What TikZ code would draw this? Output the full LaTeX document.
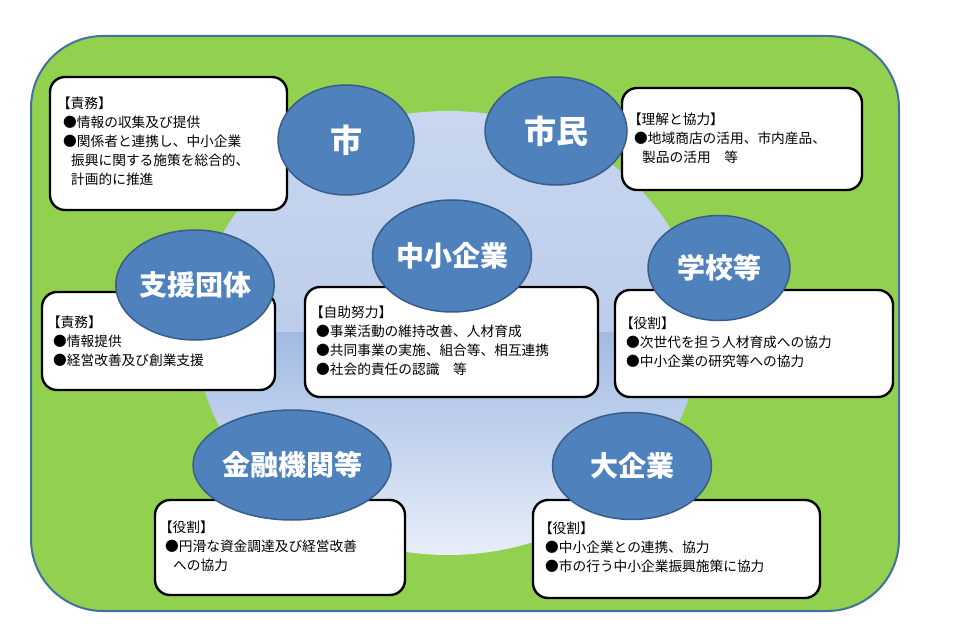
\documentclass[tikz,border=0pt]{standalone}
\usepackage{fontspec}
\setmainfont{Noto Sans CJK JP}
\usetikzlibrary{shapes.geometric}
\definecolor{fieldgreen}{HTML}{92D050}
\definecolor{fieldedge}{HTML}{41719C}
\definecolor{ovalfill}{HTML}{4F81BD}
\definecolor{ovaledge}{HTML}{385D8A}
\definecolor{coreA}{HTML}{C9D7EF}
\definecolor{coreB}{HTML}{BCCDEB}
\definecolor{coreC}{HTML}{A2BBE3}
\definecolor{coreD}{HTML}{E9EFF9}
\newcommand\lbk{\hspace*{-0.45em}【}
\newcommand\ind{\hspace*{8pt}}
\tikzset{
  infobox/.style={draw=black, line width=2.4pt, fill=white, rounded corners=15pt, inner sep=0pt},
  oval/.style={ellipse, draw=ovaledge, line width=1.5pt, fill=ovalfill, inner sep=0pt,
    text=white, font=\fontsize{28}{32}\selectfont\bfseries},
  bigoval/.style={oval, font=\fontsize{32}{34}\selectfont\bfseries},
  txt/.style={anchor=north west, inner sep=0pt, align=left, text=black,
    font=\fontsize{13.7}{19}\selectfont}
}
\begin{document}
\begin{tikzpicture}[x=1pt,y=-1pt]
\useasboundingbox (0,0) rectangle (970,631);
% green field
\draw[fieldedge, line width=2pt, fill=fieldgreen, rounded corners=72pt] (31,36) rectangle (899,611);
% light blue core
\begin{scope}
\clip (448,333) ellipse [x radius=252, y radius=222];
\shade[top color=coreA, bottom color=coreB] (190,105) rectangle (706,333.5);
\shade[top color=coreC, bottom color=coreD] (190,333) rectangle (706,560);
\end{scope}
% boxes
\node[infobox, minimum width=237pt, minimum height=133pt] (b1) at (168.5,143.5) {};
\node[infobox, minimum width=240pt, minimum height=102pt] (b2) at (742,139) {};
\node[infobox, minimum width=233pt, minimum height=98pt] (b3) at (158.5,341) {};
\node[infobox, minimum width=293pt, minimum height=110pt] (b4) at (451.5,342) {};
\node[infobox, minimum width=278pt, minimum height=107pt] (b5) at (754,343.5) {};
\node[infobox, minimum width=250pt, minimum height=95pt] (b6) at (280,547.5) {};
\node[infobox, minimum width=287pt, minimum height=98pt] (b7) at (676.5,549) {};
% box texts
\node[txt] (t1) at (63,95) {\strut\lbk 責務】\\●情報の収集及び提供\\●関係者と連携し、中小企業\\\ind 振興に関する施策を総合的、\\\ind 計画的に推進};
\node[txt] (t2) at (634,111) {\strut\lbk 理解と協力】\\●地域商店の活用、市内産品、\\\ind 製品の活用　等};
\node[txt] (t3) at (53,314) {\strut\lbk 責務】\\●情報提供\\●経営改善及び創業支援};
\node[txt] (t4) at (316,304) {\strut\lbk 自助努力】\\●事業活動の維持改善、人材育成\\●共同事業の実施、組合等、相互連携\\●社会的責任の認識　等};
\node[txt] (t5) at (626,315) {\strut\lbk 役割】\\●次世代を担う人材育成への協力\\●中小企業の研究等への協力};
\node[txt] (t6) at (165,519) {\strut\lbk 役割】\\●円滑な資金調達及び経営改善\\\ind への協力};
\node[txt] (t7) at (545,520) {\strut\lbk 役割】\\●中小企業との連携、協力\\●市の行う中小企業振興施策に協力};
% ovals
\node[bigoval, minimum width=136pt, minimum height=110pt] (city) at (346,140) {市};
\node[bigoval, minimum width=142pt, minimum height=108pt] (citizen) at (556,131) {市民};
\node[oval, minimum width=159pt, minimum height=112pt] (sme) at (452,256) {中小企業};
\node[oval, minimum width=154pt, minimum height=110pt] (support) at (195,285) {支援団体};
\node[oval, minimum width=142pt, minimum height=105pt] (school) at (719,268) {学校等};
\node[oval, minimum width=160pt, minimum height=110pt] (finance) at (292,465) {金融機関等};
\node[oval, minimum width=159pt, minimum height=107pt] (large) at (632,466) {大企業};
\end{tikzpicture}
\end{document}
